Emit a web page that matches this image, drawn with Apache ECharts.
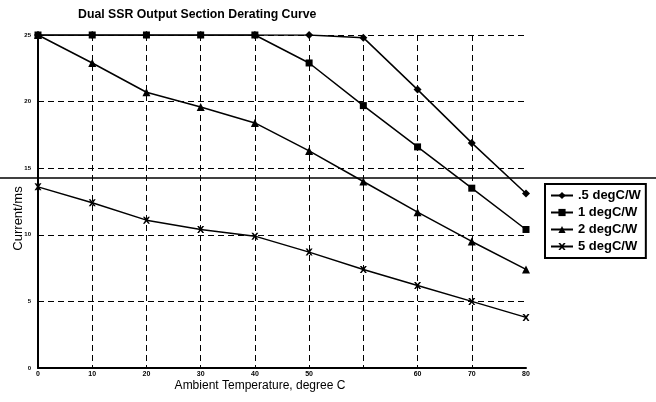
<!DOCTYPE html>
<html>
<head>
<meta charset="utf-8">
<script src="https://cdn.jsdelivr.net/npm/echarts@6/dist/echarts.min.js"></script>
<style>
  html, body { margin: 0; padding: 0; background: #fff; }
  #chart { width: 656px; height: 402px; }
</style>
</head>
<body>
<div id="chart"></div>
<script>
// x tick labels as printed (the scan has no label at the 7th line)
var tempLabels = ['0', '10', '20', '30', '40', '50', '', '60', '70', '80'];

// current, one value per vertical grid line
var half = [25, 25, 25, 25, 25, 25, 24.8, 20.9, 16.9, 13.1];
var one = [25, 25, 25, 25, 25, 22.9, 19.7, 16.6, 13.5, 10.4];
var two = [25, 22.9, 20.7, 19.6, 18.4, 16.3, 14.0, 11.7, 9.5, 7.4];
var five = [13.6, 12.4, 11.1, 10.4, 9.9, 8.7, 7.4, 6.2, 5.0, 3.8];

var seriesNames = ['.5 degC/W', '1 degC/W', '2 degC/W', '5 degC/W'];

var xMark = 'path://M0,0 L2.5,0 L5,3 L7.5,0 L10,0 L6.5,5 L10,10 L7.5,10 L5,7 L2.5,10 L0,10 L3.5,5 Z';

var font = 'Liberation Sans, Arial, sans-serif';

var makeLine = function (name, data, symbol, size) {
    return {
        name: name,
        type: 'line',
        data: data,
        symbol: symbol,
        symbolSize: size,
        showSymbol: true,
        lineStyle: {color: '#000', width: 1.5},
        itemStyle: {color: '#000'},
        animation: false
    };
};

var chart = echarts.init(document.getElementById('chart'));

var option = {
    backgroundColor: '#fff',
    title: {
        text: 'Dual SSR Output Section Derating Curve',
        left: 73,
        top: 4,
        textStyle: {fontFamily: font, fontSize: 12.3, fontWeight: 'bold', color: '#000'}
    },
    grid: {left: 38, right: 130, top: 35, bottom: 34, outerBoundsMode: 'none'},
    legend: {
        data: seriesNames,
        orient: 'vertical',
        left: 545,
        top: 184,
        padding: [5, 5, 5, 5],
        itemGap: 4,
        itemWidth: 22,
        itemHeight: 9,
        borderColor: '#000',
        borderWidth: 2,
        textStyle: {fontFamily: font, fontSize: 13, fontWeight: 'bold', color: '#000'}
    },
    xAxis: {
        type: 'category',
        data: tempLabels,
        boundaryGap: false,
        name: 'Ambient Temperature, degree C',
        nameLocation: 'middle',
        nameGap: 12,
        nameMoveOverlap: false,
        nameTextStyle: {fontFamily: font, fontSize: 12, color: '#000', padding: [0, 44, 0, 0]},
        axisLine: {lineStyle: {color: '#000', width: 2}},
        axisTick: {show: false},
        axisLabel: {interval: 0, margin: 3, fontFamily: font, fontSize: 7, fontWeight: 'bold', color: '#000'},
        splitLine: {
            show: true,
            interval: function (i) { return i > 0 && i < tempLabels.length - 1; },
            lineStyle: {color: '#000', width: 1, type: [6, 4]}
        }
    },
    yAxis: {
        type: 'value',
        min: 0,
        max: 25,
        interval: 5,
        name: 'Current/ms',
        nameLocation: 'middle',
        nameGap: 13,
        nameMoveOverlap: false,
        nameTextStyle: {fontFamily: font, fontSize: 13, color: '#000', padding: [0, 34, 0, 0]},
        axisLine: {show: true, lineStyle: {color: '#000', width: 2}},
        axisTick: {show: false},
        axisLabel: {margin: 7, fontFamily: font, fontSize: 6, fontWeight: 'bold', color: '#000'},
        splitLine: {show: true, lineStyle: {color: '#000', width: 1, type: [6, 4]}}
    },
    graphic: [{
        // stray scan seam across the page
        type: 'line',
        shape: {x1: 0, y1: 178, x2: 656, y2: 178},
        style: {stroke: '#000', lineWidth: 1.5},
        z: 10
    }],
    series: [
        makeLine(seriesNames[0], half, 'diamond', 8),
        makeLine(seriesNames[1], one, 'rect', 7),
        makeLine(seriesNames[2], two, 'triangle', 8),
        makeLine(seriesNames[3], five, xMark, 7)
    ]
};

chart.setOption(option);
</script>
</body>
</html>
